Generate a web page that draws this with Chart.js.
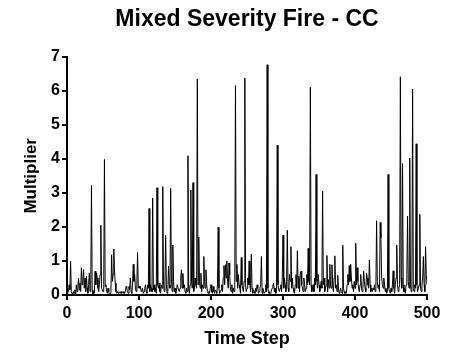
<!DOCTYPE html>
<html>
<head>
<meta charset="utf-8">
<script src="https://cdn.jsdelivr.net/npm/chart.js@4"></script>
<style>
  html, body { margin: 0; padding: 0; background: #fff; }
  #c { display: block; }
</style>
</head>
<body>
<canvas id="c" width="452" height="352"></canvas>
<script>
const chartTitle = "Mixed Severity Fire - CC";
const xAxisTitle = "Time Step";
const yAxisTitle = "Multiplier";
const xTickValues = [0, 100, 200, 300, 400, 500];
const yTickValues = [0, 1, 2, 3, 4, 5, 6, 7];

// Multiplier per time step (0..500)
const multiplier = [
  0.05, 0.2, 0.1, 0.3, 0.15, 1.0, 0.1, 0.05, 0.0, 0.1,
  0.05, 0.15, 0.0, 0.3, 0.1, 0.2, 0.5, 0.15, 0.35, 0.1,
  0.8, 0.3, 0.4, 0.75, 0.2, 0.5, 0.1, 0.55, 0.2, 0.05,
  0.3, 0.65, 0.1, 0.2, 3.22, 0.15, 0.0, 0.1, 0.05, 0.7,
  0.3, 0.65, 0.5, 0.2, 0.1, 0.3, 0.6, 2.05, 0.2, 0.15,
  0.1, 0.3, 3.98, 0.25, 0.3, 0.1, 0.05, 0.2, 0.1, 0.0,
  0.05, 0.1, 1.18, 0.4, 0.6, 1.35, 0.7, 0.35, 0.1, 0.05,
  0.1, 0.05, 0.1, 0.08, 0.05, 0.1, 0.05, 0.08, 0.1, 0.05,
  0.05, 0.1, 0.25, 0.2, 0.1, 0.05, 0.25, 0.15, 0.5, 0.1,
  0.05, 0.3, 0.9, 0.4, 0.6, 0.2, 0.1, 0.3, 1.25, 0.2,
  0.25, 0.2, 0.25, 0.1, 0.15, 0.2, 0.05, 0.1, 0.2, 0.3,
  0.1, 0.05, 0.3, 0.2, 2.54, 0.1, 0.3, 0.2, 0.1, 2.85,
  0.15, 0.3, 0.1, 0.2, 0.05, 3.15, 0.3, 0.2, 0.35, 0.1,
  0.05, 0.3, 0.2, 3.18, 0.4, 0.1, 0.3, 1.76, 0.3, 0.05,
  0.1, 0.85, 0.3, 0.2, 3.13, 0.5, 0.1, 1.47, 0.4, 0.1,
  0.2, 0.05, 0.1, 0.3, 0.3, 0.15, 0.1, 0.2, 0.5, 0.74,
  0.2, 0.63, 0.2, 0.3, 0.1, 0.05, 0.2, 0.1, 4.09, 0.2,
  0.05, 0.3, 3.08, 0.4, 0.2, 3.3, 0.1, 0.2, 0.5, 0.3,
  0.2, 6.34, 0.3, 1.7, 0.4, 0.2, 0.64, 0.1, 0.3, 0.2,
  1.13, 0.4, 0.2, 0.74, 0.3, 0.1, 0.05, 0.1, 0.05, 0.2,
  0.3, 0.1, 0.05, 0.25, 0.1, 0.05, 0.15, 0.1, 0.05, 0.3,
  1.99, 0.2, 0.05, 0.1, 0.15, 0.3, 0.1, 0.5, 0.86, 0.3,
  0.89, 0.5, 1.0, 0.4, 0.2, 0.94, 0.6, 0.15, 0.1, 0.3,
  0.05, 0.2, 0.1, 0.3, 6.15, 0.4, 0.9, 0.2, 0.6, 0.3,
  0.2, 0.05, 1.1, 0.3, 0.2, 0.1, 0.4, 6.37, 0.3, 0.1,
  0.2, 0.5, 0.3, 1.0, 0.3, 0.1, 1.2, 0.2, 0.05, 0.15,
  0.1, 0.05, 0.2, 0.1, 0.3, 0.2, 0.05, 0.1, 0.2, 0.3,
  1.13, 0.05, 0.2, 0.1, 0.05, 0.1, 0.3, 0.1, 6.76, 0.2,
  0.05, 0.1, 0.0, 0.05, 0.15, 0.2, 0.3, 0.35, 0.1, 0.2,
  0.05, 0.2, 4.4, 0.3, 0.15, 0.1, 0.2, 0.3, 0.1, 0.5,
  1.76, 0.2, 0.5, 0.3, 0.1, 0.4, 1.9, 0.2, 0.1, 0.6,
  0.4, 1.42, 0.2, 0.5, 0.2, 0.1, 0.05, 0.3, 0.6, 0.2,
  1.3, 0.2, 0.55, 0.1, 0.6, 0.7, 0.3, 0.2, 0.1, 0.5,
  0.3, 0.1, 0.2, 0.6, 0.3, 1.37, 0.4, 0.3, 6.1, 0.3,
  0.1, 0.2, 0.3, 0.1, 0.5, 0.3, 3.54, 0.4, 0.2, 0.6,
  0.3, 0.1, 0.2, 0.4, 0.2, 3.05, 0.3, 0.5, 0.1, 0.2,
  0.3, 1.16, 0.1, 0.45, 0.2, 0.9, 0.3, 0.2, 0.89, 0.3,
  0.1, 0.5, 1.15, 0.2, 0.3, 0.1, 0.58, 0.2, 0.05, 0.1,
  0.2, 0.1, 0.05, 1.46, 0.2, 0.1, 0.05, 0.1, 0.05, 0.3,
  0.6, 0.3, 0.86, 0.4, 0.9, 0.5, 0.2, 0.3, 0.1, 0.4,
  0.2, 1.52, 0.3, 0.8, 0.4, 0.2, 0.1, 0.3, 0.6, 0.2,
  0.1, 0.2, 0.7, 0.4, 0.2, 0.1, 0.65, 0.5, 0.3, 0.2,
  1.03, 0.3, 0.1, 0.2, 0.1, 0.2, 0.15, 0.3, 0.1, 0.2,
  2.18, 0.4, 0.2, 0.3, 0.1, 2.13, 1.67, 0.5, 0.3, 0.2,
  0.5, 0.3, 0.1, 0.2, 0.05, 0.1, 3.54, 0.2, 0.1, 0.05,
  0.2, 0.1, 0.3, 0.71, 0.2, 0.05, 0.3, 0.5, 1.47, 0.3,
  0.1, 0.2, 0.3, 6.41, 0.5, 0.2, 3.86, 0.3, 0.1, 0.2,
  0.05, 0.3, 0.6, 2.32, 0.4, 0.2, 4.02, 0.3, 0.1, 0.2,
  6.05, 0.2, 0.1, 0.3, 0.2, 4.44, 0.3, 0.1, 0.2, 0.3,
  2.37, 0.2, 0.1, 0.3, 0.5, 1.13, 0.3, 0.1, 1.42, 0.6,
  0.3
];
const timeSteps = multiplier.map((_, i) => i);

const FONT = '"Liberation Sans", Arial, Helvetica, sans-serif';

new Chart(document.getElementById('c'), {
  type: 'line',
  data: {
    datasets: [{
      data: timeSteps.map((t, i) => ({ x: t, y: multiplier[i] })),
      borderColor: '#000',
      borderWidth: 1,
      pointRadius: 0,
      tension: 0,
      fill: false
    }]
  },
  options: {
    responsive: false,
    animation: false,
    layout: { padding: { left: 0, right: 25, top: 0, bottom: 0 } },
    plugins: {
      legend: { display: false },
      tooltip: { enabled: false },
      title: {
        display: true,
        fullSize: false,
        text: chartTitle,
        color: '#000',
        font: { family: FONT, size: 23, weight: 'bold', lineHeight: 1.2 },
        padding: { top: 6, bottom: 23 }
      }
    },
    scales: {
      x: {
        type: 'linear',
        min: 0, max: 500,
        afterFit: s => { s.height = 57; },
        afterBuildTicks: s => { s.ticks = xTickValues.map(v => ({ value: v })); },
        ticks: { color: '#000', padding: 4, font: { family: FONT, size: 16, weight: 'bold' }, maxRotation: 0 },
        grid: { drawOnChartArea: false, drawTicks: true, tickLength: 5, color: '#000', lineWidth: 2 },
        border: { display: true, color: '#000', width: 2 },
        title: { display: true, text: xAxisTitle, color: '#000', font: { family: FONT, size: 18, weight: 'bold', lineHeight: 1.2 }, padding: { top: 0, bottom: 2 } }
      },
      y: {
        type: 'linear',
        min: 0, max: 7,
        afterFit: s => { s.width = 67; },
        afterBuildTicks: s => { s.ticks = yTickValues.map(v => ({ value: v })); },
        ticks: { color: '#000', padding: 2, font: { family: FONT, size: 16, weight: 'bold' } },
        grid: { drawOnChartArea: false, drawTicks: true, tickLength: 5, color: '#000', lineWidth: 2 },
        border: { display: true, color: '#000', width: 2 },
        title: { display: true, text: yAxisTitle, color: '#000', font: { family: FONT, size: 17, weight: 'bold', lineHeight: 1.2 }, padding: { top: 21, bottom: 0 } }
      }
    }
  }
});
</script>
</body>
</html>
